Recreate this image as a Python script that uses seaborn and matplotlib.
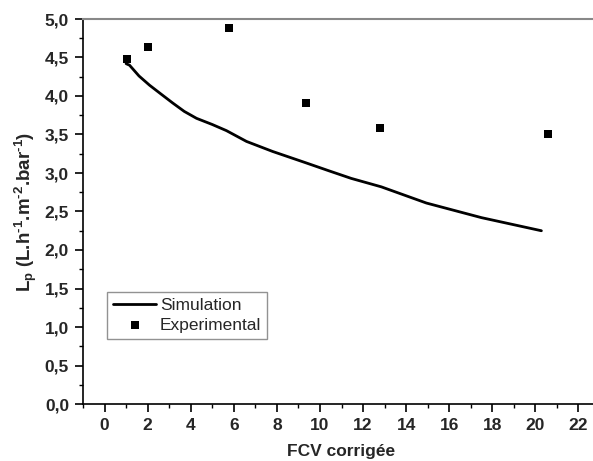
import numpy as np
import pandas as pd
import matplotlib
matplotlib.use("Agg")
import matplotlib.pyplot as plt
import seaborn as sns
from matplotlib.ticker import MultipleLocator, FuncFormatter

# simulation curve
sim_fcv = [1.0, 1.16, 1.6, 2.09, 2.6, 3.16, 3.7, 4.27, 5.0, 5.66, 6.59, 7.8, 9.37, 10.4, 11.45, 12.85, 14.94, 17.5, 20.28]
sim_lp = [4.42, 4.40, 4.26, 4.14, 4.03, 3.91, 3.80, 3.71, 3.63, 3.55, 3.41, 3.28, 3.13, 3.03, 2.93, 2.82, 2.61, 2.42, 2.25]

# experimental points
exp_fcv = [1.02, 2.04, 5.8, 9.37, 12.79, 20.59]
exp_lp = [4.48, 4.64, 4.88, 3.91, 3.58, 3.51]

sim = pd.DataFrame({"fcv": sim_fcv, "lp": sim_lp})
exp = pd.DataFrame({"fcv": exp_fcv, "lp": exp_lp})

sns.set_style("ticks")
plt.rcParams["font.family"] = ["Liberation Sans", "DejaVu Sans"]
plt.rcParams["mathtext.fontset"] = "custom"
plt.rcParams["mathtext.rm"] = "Liberation Sans:bold"
plt.rcParams["mathtext.it"] = "Liberation Sans:bold"
plt.rcParams["mathtext.bf"] = "Liberation Sans:bold"

fig = plt.figure(figsize=(5.93, 4.61), dpi=100)
ax = fig.add_axes([83 / 593, 57 / 461, 517 / 593, 385 / 461])

sns.lineplot(data=sim, x="fcv", y="lp", ax=ax, color="black", linewidth=2,
             label="Simulation", sort=False)
sns.scatterplot(data=exp, x="fcv", y="lp", ax=ax, color="black", marker="s",
                s=34, linewidth=0, label="Experimental")

ax.set_xlim(-1, 23)
ax.set_ylim(0, 5)
ax.xaxis.set_major_locator(MultipleLocator(2))
ax.xaxis.set_minor_locator(MultipleLocator(1))
ax.yaxis.set_major_locator(MultipleLocator(0.5))
ax.yaxis.set_minor_locator(MultipleLocator(0.25))
ax.yaxis.set_major_formatter(FuncFormatter(lambda v, p: f"{v:.1f}".replace(".", ",")))

ax.tick_params(which="major", direction="out", length=6, width=1.2, color="black", pad=4)
ax.tick_params(which="minor", direction="out", length=3, width=1.0, color="black")
for lab in ax.get_xticklabels() + ax.get_yticklabels():
    lab.set_fontweight("bold")
    lab.set_fontsize(12.5)

for side in ["left", "bottom"]:
    ax.spines[side].set_color("black")
    ax.spines[side].set_linewidth(1.2)
ax.spines["top"].set_color("#888888")
ax.spines["top"].set_linewidth(1.5)
ax.spines["right"].set_visible(False)

ax.set_xlabel("FCV corrigée", fontsize=12.5, fontweight="bold", labelpad=8)
ax.set_ylabel(r"$L_p$ (L.h$^{\text{-}1}$.m$^{\text{-}2}$.bar$^{\text{-}1}$)", fontsize=13.5,
              fontweight="bold", labelpad=4)

leg = ax.legend(loc="upper left", bbox_to_anchor=(0.046, 0.291), borderaxespad=0,
                fontsize=12.5, frameon=True, fancybox=False, handlelength=2.5,
                handletextpad=0.2, borderpad=0.35, labelspacing=0.25)
leg.get_frame().set_edgecolor("#777777")
leg.get_frame().set_linewidth(1.0)

fig.savefig("out.png", dpi=100)
